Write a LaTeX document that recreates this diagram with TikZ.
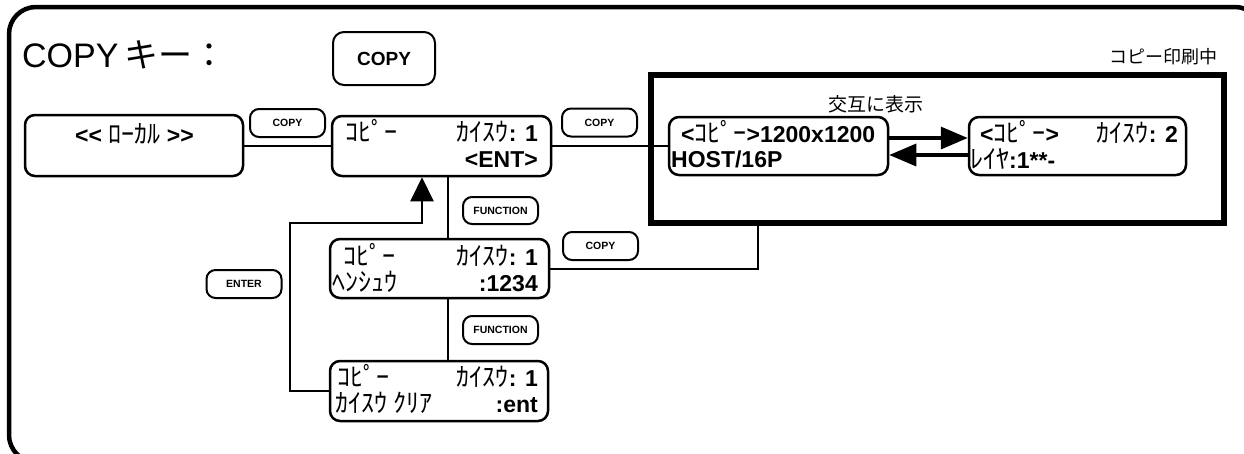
\documentclass[tikz,border=0pt]{standalone}
\usepackage{fontspec}
\setmainfont{Liberation Sans}
\newfontfamily\jp{Noto Sans CJK JP}
\usetikzlibrary{arrows.meta}
\newcommand\lcdf{\fontsize{23}{23}\selectfont\bfseries}
\newcommand\kt[1]{{\mdseries\jp\fontsize{26}{26}\selectfont #1}}
\tikzset{
  lcd/.style={draw, line width=2.5pt, rounded corners=10pt, inner sep=0pt},
  btn/.style={draw, line width=2pt, rounded corners=9pt, inner sep=0pt,
    minimum width=75, minimum height=27, font=\fontsize{10.5}{10.5}\selectfont\bfseries},
  conn/.style={line width=2pt},
  txl/.style={anchor=base west, inner sep=0pt, font=\lcdf, text height=17pt, text depth=1pt},
  txr/.style={anchor=base east, inner sep=0pt, font=\lcdf, text height=17pt, text depth=1pt},
  arr/.style={line width=3.5pt, -{Triangle[length=27pt,width=22pt]}},
  upar/.style={conn, -{Triangle[length=24pt,width=23pt]}}
}
\begin{document}
\begin{tikzpicture}[x=1pt,y=-1pt]
\useasboundingbox (0,0) rectangle (1244,453);
\clip (0,0) rectangle (1244,453);
\fill[white] (0,0) rectangle (1244,453);
% outer frame
\draw[line width=4.5pt, rounded corners=27pt] (9,7) rectangle (1262,462);

% title
\node[anchor=base west, inner sep=0pt, font=\fontsize{34}{34}\selectfont] (title) at (22,67) {COPY\,{\jp キー：}};
\node[btn, minimum width=102, minimum height=53, rounded corners=11pt, font=\fontsize{19}{19}\selectfont\bfseries] (bigcopy) at (384,58.5) {COPY};
\node[anchor=base east, inner sep=0pt, font=\fontsize{18}{18}\selectfont\jp] (printing) at (1218,63) {コピー印刷中};

% boxes
\node[lcd, minimum width=218, minimum height=61] (local) at (134,145.5) {};
\node[lcd, minimum width=219, minimum height=60] (copy) at (441.5,146) {};
\node[lcd, minimum width=219, minimum height=59] (ed) at (439.5,268.5) {};
\node[lcd, minimum width=218, minimum height=60] (clr) at (439,391) {};
\node[draw, line width=6pt, inner sep=0pt, minimum width=573, minimum height=148] (frame) at (937.5,149) {};
\node[lcd, minimum width=219, minimum height=58] (lcdA) at (778.5,146) {};
\node[lcd, minimum width=217, minimum height=58] (lcdB) at (1077.5,146) {};

% buttons
\node[btn, minimum height=28] (bA) at (287.5,123) {COPY};
\node[btn, minimum height=28] (bB) at (599.5,122.5) {COPY};
\node[btn, minimum height=28] (bC) at (600.5,246) {COPY};
\node[btn] (fn1) at (500.5,210.5) {FUNCTION};
\node[btn, minimum height=28] (fn2) at (500.5,330) {FUNCTION};
\node[btn, minimum height=28] (enter) at (244,284) {ENTER};

% texts
\node[txl] (t1) at (75,143) {<{}<\ \kt{ﾛｰｶﾙ}\ >{}>};
\node[txl] (t2) at (345,141) {\kt{ｺﾋﾟｰ}};
\node[txr] (t3) at (538,141) {\kt{ｶｲｽｳ}: 1};
\node[txr] (t4) at (538,167) {<ENT>};
\node[txl] (t5) at (343,265) {\kt{ｺﾋﾟｰ}};
\node[txr] (t6) at (538,265) {\kt{ｶｲｽｳ}: 1};
\node[txl] (t7) at (332,291) {\kt{ﾍﾝｼｭｳ}};
\node[txr] (t8) at (538,291) {:1234};
\node[txl] (t9) at (337,386) {\kt{ｺﾋﾟｰ}};
\node[txr] (t10) at (538,386) {\kt{ｶｲｽｳ}: 1};
\node[txl] (t11) at (335,412) {\kt{ｶｲｽｳ ｸﾘｱ}};
\node[txr] (t12) at (538,412) {:ent};
\node[txl] (t13) at (681,142) {<\kt{ｺﾋﾟｰ}>1200x1200};
\node[txl] (t14) at (671,167) {HOST/16P};
\node[txl] (t15) at (980,142) {<\kt{ｺﾋﾟｰ}>};
\node[txr] (t16) at (1178,142) {\kt{ｶｲｽｳ}: 2};
\node[txl] (t17) at (970,168) {\kt{ﾚｲﾔ}:1**-};
\node[anchor=base, inner sep=0pt, font=\fontsize{19}{19}\selectfont\jp] (alt) at (876,111) {交互に表示};

% connectors
\coordinate (vx) at (448,0);
\coordinate (fx) at (758,0);
\coordinate (ex) at (290,223);
\coordinate (ax) at (422,0);
\draw[conn] (local.east) -- (local.east -| copy.west);
\draw[conn] (copy.east) -- (copy.east -| lcdA.west);
\draw[conn] (vx |- copy.south) -- (vx |- ed.north);
\draw[conn] (vx |- ed.south) -- (vx |- clr.north);
\draw[conn] (fx |- frame.south) -- (fx |- ed.east) -- (ed.east);
\draw[upar] (clr.west) -- (clr.west -| ex) -- (ex) -- (ax |- ex) -- (ax |- copy.south);
\draw[arr] ([yshift=8pt]lcdA.east) -- ([yshift=8pt]lcdA.east -| lcdB.west);
\draw[arr] ([yshift=-9pt]lcdB.west) -- ([yshift=-9pt]lcdB.west -| lcdA.east);
\end{tikzpicture}
\end{document}
